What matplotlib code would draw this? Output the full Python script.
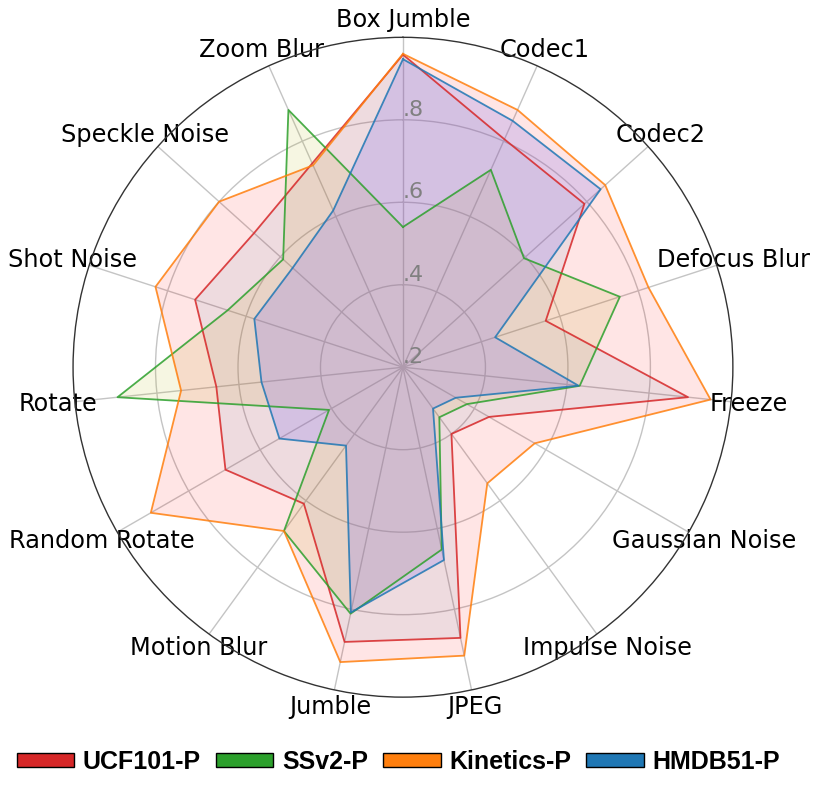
import numpy as np
import matplotlib
matplotlib.use("Agg")
import matplotlib.pyplot as plt
from matplotlib.patches import Patch

categories = ['Box Jumble', 'Codec1', 'Codec2', 'Defocus Blur', 'Freeze',
              'Gaussian Noise', 'Impulse Noise', 'JPEG', 'Jumble', 'Motion Blur',
              'Random Rotate', 'Rotate', 'Shot Noise', 'Speckle Noise', 'Zoom Blur']

ucf101 = [0.958, 0.805, 0.792, 0.564, 0.895, 0.441, 0.400, 0.871, 0.881, 0.609,
          0.697, 0.655, 0.730, 0.686, 0.741]
ssv2 = [0.540, 0.724, 0.595, 0.753, 0.631, 0.379, 0.350, 0.652, 0.811, 0.691,
        0.407, 0.896, 0.647, 0.591, 0.883]
kinetics = [0.960, 0.883, 0.860, 0.826, 0.950, 0.569, 0.548, 0.915, 0.931, 0.691,
            0.906, 0.741, 0.831, 0.800, 0.736]
hmdb51 = [0.947, 0.854, 0.845, 0.435, 0.628, 0.348, 0.324, 0.678, 0.808, 0.435,
          0.546, 0.545, 0.579, 0.560, 0.616]

names = ['UCF101-P', 'SSv2-P', 'Kinetics-P', 'HMDB51-P']
series = [ucf101, ssv2, kinetics, hmdb51]
line_colors = ['tab:red', 'tab:green', 'tab:orange', 'tab:blue']
fill_colors = ['tab:blue', 'tab:olive', 'red', 'mediumslateblue']
fill_alpha = [0.08, 0.13, 0.10, 0.22]

rticks = [0.2, 0.4, 0.6, 0.8]
rlabels = ['.2', '.4', '.6', '.8']

angles = np.linspace(0, 2 * np.pi, len(categories), endpoint=False)
ang = np.concatenate([angles, angles[:1]])

fig = plt.figure(figsize=(8.3, 7.94), dpi=100)
ax = fig.add_axes([0.088, 0.122, 0.795, 0.831], polar=True)
ax.set_theta_offset(np.pi / 2)
ax.set_theta_direction(-1)
ax.set_axisbelow(True)

for vals, lc, fc, fa in zip(series, line_colors, fill_colors, fill_alpha):
    v = np.concatenate([vals, vals[:1]])
    ax.fill(ang, v, color=fc, alpha=fa, lw=0)
    ax.plot(ang, v, color=lc, lw=1.3, alpha=0.85)

ax.set_ylim(0.2, 1.0)
ax.set_yticks(rticks)
ax.set_yticklabels([])
for r, lab in zip(rticks, rlabels):
    ax.text(0, r, lab, ha='left', va='bottom', fontsize=16, color='gray')

ax.set_xticks(angles)
ax.set_xticklabels(categories, fontsize=17.3)
ax.tick_params(axis='x', pad=2)
ax.grid(color='#c4c4c4', lw=1)
ax.spines['polar'].set_color('#333333')
ax.spines['polar'].set_linewidth(1)

handles = [Patch(facecolor=c, edgecolor='black', lw=1) for c in line_colors]
fig.legend(handles, names, loc='center', bbox_to_anchor=(0.48, 0.04), ncol=4,
           frameon=False, handlelength=2.3, handleheight=0.5, handletextpad=0.35,
           columnspacing=0.6, prop={'family': 'Liberation Sans', 'weight': 'bold', 'size': 18})

fig.savefig('out.png', dpi=100)
